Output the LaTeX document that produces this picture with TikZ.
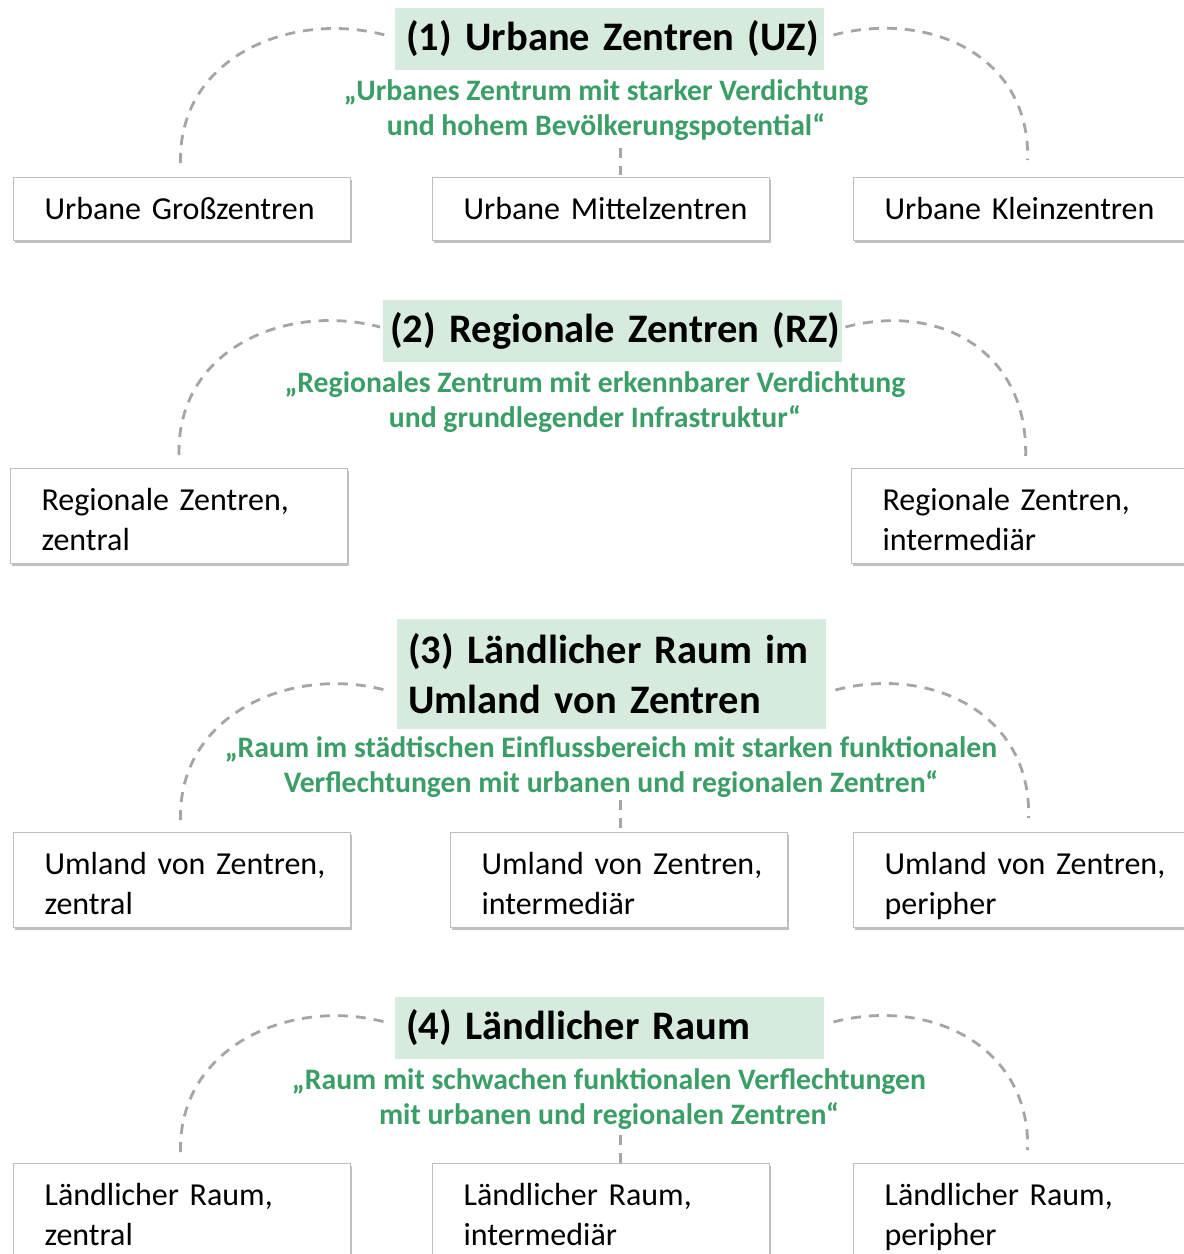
\documentclass[tikz,border=0pt]{standalone}
\usepackage{fontspec}
\setmainfont{Carlito}
\usetikzlibrary{shadows}
\definecolor{headfill}{RGB}{214,235,221}
\definecolor{quotegreen}{RGB}{58,158,102}
\definecolor{linkgray}{RGB}{165,165,165}
\definecolor{boxline}{RGB}{190,190,190}
\begin{document}
\begin{tikzpicture}[x=1pt,y=-1pt,
  header/.style={fill=headfill, anchor=west, align=left, text width=407pt,
    inner xsep=11pt, inner ysep=0pt, minimum height=62pt,
    font=\bfseries\fontsize{40.5}{50}\selectfont},
  quote/.style={text=quotegreen, align=center, inner sep=0pt,
    font=\bfseries\fontsize{29.7}{35}\selectfont},
  % leaf boxes: first baseline 42pt below the top edge, two lines by default
  leaf/.style={draw=boxline, line width=1.2pt, fill=white, anchor=north west,
    align=left, text width=275pt, inner xsep=31pt, inner ysep=0pt,
    font=\fontsize{32}{40}\selectfont,
    execute at begin node={\rule{0pt}{42pt}},
    execute at end node={\rule[-13pt]{0pt}{13pt}},
    drop shadow={shadow xshift=1.5pt, shadow yshift=-2.5pt, fill=black!35, opacity=0.7}},
  oneline/.style={execute at end node={\rule[-21pt]{0pt}{21pt}}},
  link/.style={draw=linkgray, line width=2.8pt, dash pattern=on 10pt off 8pt}]

\path[use as bounding box, fill=white] (0,0) rectangle (1184,1254);

% ---- (1) Urbane Zentren ----
\node[header] (h1) at (395,39) {\mbox{(1) Urbane Zentren (UZ)}};
\node[quote] (q1) at (606,110) {„Urbanes Zentrum mit starker Verdichtung\\und hohem Bevölkerungspotential“};
\node[leaf, oneline] (l11) at (13,177) {\mbox{Urbane Großzentren}};
\node[leaf, oneline] (l12) at (432,177) {\mbox{Urbane Mittelzentren}};
\node[leaf, oneline] (l13) at (853,177) {\mbox{Urbane Kleinzentren}};
\draw[link] ([xshift=-1.5pt,yshift=14pt]l11.north) .. controls +(-3,-105) and +(-95,-25) .. ([xshift=-10pt,yshift=4pt]h1.west);
\draw[link] ([xshift=9pt,yshift=4pt]h1.east) .. controls +(95,-25) and +(3,-105) .. ([xshift=5.5pt,yshift=17pt]l13.north);
\draw[link] ([xshift=19.5pt,yshift=29pt]l12.north) -- ([xshift=19.5pt,yshift=2pt]l12.north);

% ---- (2) Regionale Zentren ----
\node[header, text width=445pt, inner xsep=7pt] (h2) at (383,331) {\mbox{(2) Regionale Zentren (RZ)}};
\node[quote] (q2) at (595,402) {„Regionales Zentrum mit erkennbarer Verdichtung\\und grundlegender Infrastruktur“};
\node[leaf] (l21) at (10,468) {\mbox{Regionale Zentren,}\\zentral};
\node[leaf] (l22) at (851,468) {\mbox{Regionale Zentren,}\\intermediär};
\draw[link] ([yshift=13pt]l21.north) .. controls +(-3,-105) and +(-95,-25) .. ([xshift=-3pt,yshift=4pt]h2.west);
\draw[link] ([xshift=3pt,yshift=4pt]h2.east) .. controls +(95,-25) and +(3,-105) .. ([xshift=5.5pt,yshift=11pt]l22.north);

% ---- (3) Ländlicher Raum im Umland von Zentren ----
\node[header, minimum height=110pt] (h3) at (397,674) {\mbox{(3) Ländlicher Raum im}\\\mbox{Umland von Zentren}};
\node[quote] (q3) at (611,767) {„Raum im städtischen Einflussbereich mit starken funktionalen\\Verflechtungen mit urbanen und regionalen Zentren“};
\node[leaf] (l31) at (13,832) {\mbox{Umland von Zentren,}\\zentral};
\node[leaf] (l32) at (450,832) {\mbox{Umland von Zentren,}\\intermediär};
\node[leaf] (l33) at (853,832) {\mbox{Umland von Zentren,}\\peripher};
\draw[link] ([xshift=-1.5pt,yshift=12pt]l31.north) .. controls +(-3,-105) and +(-95,-25) .. ([xshift=-12pt,yshift=-16pt]h3.west);
\draw[link] ([xshift=9pt,yshift=-16pt]h3.east) .. controls +(95,-25) and +(3,-105) .. ([xshift=6.5pt,yshift=14pt]l33.north);
\draw[link] ([xshift=1.5pt,yshift=32pt]l32.north) -- ([xshift=1.5pt,yshift=2pt]l32.north);

% ---- (4) Ländlicher Raum ----
\node[header] (h4) at (395,1028) {\mbox{(4) Ländlicher Raum}};
\node[quote] (q4) at (609,1099) {„Raum mit schwachen funktionalen Verflechtungen\\mit urbanen und regionalen Zentren“};
\node[leaf] (l41) at (13,1163) {\mbox{Ländlicher Raum,}\\zentral};
\node[leaf] (l42) at (432,1163) {\mbox{Ländlicher Raum,}\\intermediär};
\node[leaf] (l43) at (853,1163) {\mbox{Ländlicher Raum,}\\peripher};
\draw[link] ([xshift=-1.5pt,yshift=11pt]l41.north) .. controls +(-3,-105) and +(-95,-25) .. ([xshift=-10pt,yshift=6pt]h4.west);
\draw[link] ([xshift=9pt,yshift=6pt]h4.east) .. controls +(95,-25) and +(3,-105) .. ([xshift=5.5pt,yshift=13pt]l43.north);
\draw[link] ([xshift=19.5pt,yshift=28pt]l42.north) -- ([xshift=19.5pt,yshift=0pt]l42.north);
\end{tikzpicture}
\end{document}
